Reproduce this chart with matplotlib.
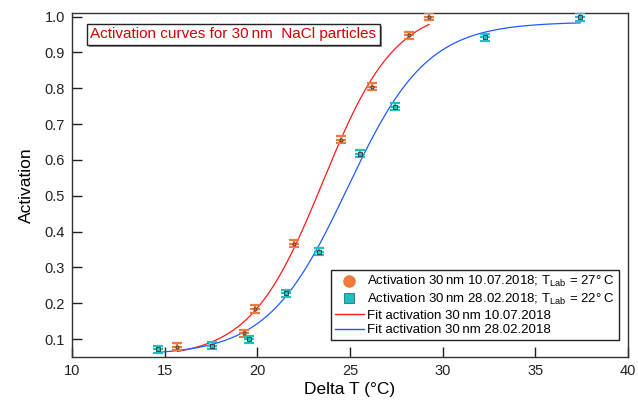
import numpy as np
import matplotlib
matplotlib.use("Agg")
import matplotlib.pyplot as plt
from matplotlib.lines import Line2D
from matplotlib.patches import Rectangle

plt.rcParams['font.family'] = ['Liberation Sans', 'DejaVu Sans']
plt.rcParams['mathtext.fontset'] = 'custom'
plt.rcParams['mathtext.rm'] = 'Liberation Sans'
plt.rcParams['mathtext.it'] = 'Liberation Sans:italic'

# --- data ---
dt_jul = [15.69, 19.30, 19.85, 21.96, 24.51, 26.19, 28.20, 29.26]
act_jul = [0.079, 0.116, 0.184, 0.366, 0.656, 0.804, 0.948, 1.000]
dt_feb = [14.64, 17.56, 19.53, 21.56, 23.31, 25.52, 27.41, 32.26, 37.42]
act_feb = [0.072, 0.081, 0.100, 0.228, 0.344, 0.617, 0.748, 0.942, 0.999]
xerr_val = 0.27
yerr_val = 0.010

# sigmoid fit parameters: base, amplitude, centre, width
fit_jul = dict(base=0.048, amp=0.98, x0=23.53, w=1.96)
fit_feb = dict(base=0.055, amp=0.93, x0=24.85, w=2.15)

lab_jul = "Activation 30\u2009nm 10.07.2018; T$_{\\mathrm{Lab}}$ = 27°\u2009C"
lab_feb = "Activation 30\u2009nm 28.02.2018; T$_{\\mathrm{Lab}}$ = 22°\u2009C"
lab_fjul = "Fit activation 30\u2009nm 10.07.2018"
lab_ffeb = "Fit activation 30\u2009nm 28.02.2018"
title_txt = "Activation curves for 30\u2009nm  NaCl particles"

c_orange = "#F07A3C"
c_cyan = "#1FBFBF"
c_red = "#FF1A1A"
c_blue = "#1F5BFF"


def sigmoid(x, base, amp, x0, w):
    return base + amp / (1.0 + np.exp(-(x - x0) / w))


fig = plt.figure(figsize=(6.38, 4.03), dpi=100)
ax = fig.add_axes([72 / 638, 46 / 403, 556 / 638, 344 / 403])

xj = np.linspace(min(dt_jul), max(dt_jul), 300)
xf = np.linspace(min(dt_feb), max(dt_feb), 300)
ax.plot(xj, sigmoid(xj, **fit_jul), color=c_red, lw=0.9, zorder=2)
ax.plot(xf, sigmoid(xf, **fit_feb), color=c_blue, lw=0.9, zorder=2)

for xs, ys, c, m in [(dt_jul, act_jul, c_orange, 'o'), (dt_feb, act_feb, c_cyan, 's')]:
    ax.errorbar(xs, ys, xerr=xerr_val, fmt='none', ecolor=c, elinewidth=1.6,
                capsize=0, zorder=3)
    ax.errorbar(xs, ys, yerr=yerr_val, fmt='none', ecolor=c, elinewidth=1.6,
                capsize=3.5, capthick=1.6, zorder=3)
    ax.plot(xs, ys, linestyle='none', marker=m, ms=2.2, mfc=c, mec='#333333',
            mew=0.6, zorder=4)

ax.set_xlim(10, 40)
ax.set_ylim(0.05, 1.01)
ax.set_xticks([10, 15, 20, 25, 30, 35, 40])
ax.set_yticks([0.1, 0.2, 0.3, 0.4, 0.5, 0.6, 0.7, 0.8, 0.9, 1.0])
ax.set_yticklabels([f"{v:.1f}" for v in ax.get_yticks()])
ax.tick_params(direction='in', length=7, width=1, labelsize=10.5, colors='#222222',
               top=False, right=False, pad=5)
for s in ax.spines.values():
    s.set_color('#333333')
    s.set_linewidth(1.0)

ax.set_xlabel("Delta T (°C)", fontsize=12.5, labelpad=3)
ax.set_ylabel("Activation", fontsize=12.5, labelpad=8)

# legend
handles = [
    Line2D([], [], linestyle='none', marker='o', ms=8, mfc=c_orange, mec=c_orange),
    Line2D([], [], linestyle='none', marker='s', ms=7.5, mfc=c_cyan, mec='#2a6f6f', mew=0.6),
    Line2D([], [], color=c_red, lw=1.0),
    Line2D([], [], color=c_blue, lw=1.0),
]
leg = ax.legend(handles, [lab_jul, lab_feb, lab_fjul, lab_ffeb], loc='lower right',
                bbox_to_anchor=(0.983, 0.049), fontsize=9.5, frameon=True,
                fancybox=False, edgecolor='#222222', framealpha=1,
                handlelength=2.2, handletextpad=0.3, labelspacing=0.18,
                borderpad=0.3, borderaxespad=0)
leg.get_frame().set_linewidth(1.0)

# title box with drop shadow
tx, ty = 0.033, 0.958
t = ax.text(tx, ty, title_txt, transform=ax.transAxes, fontsize=11, color='#D40000',
            ha='left', va='top', zorder=6,
            bbox=dict(boxstyle='square,pad=0.25', fc='white', ec='#222222', lw=1))
fig.canvas.draw()
bb = t.get_bbox_patch().get_window_extent(fig.canvas.get_renderer())
shadow = Rectangle((bb.x0 + 2, bb.y0 - 2), bb.width, bb.height, transform=None,
                   fc='#888888', ec='none', zorder=5)
ax.add_artist(shadow)

fig.savefig("out.png", dpi=100)
